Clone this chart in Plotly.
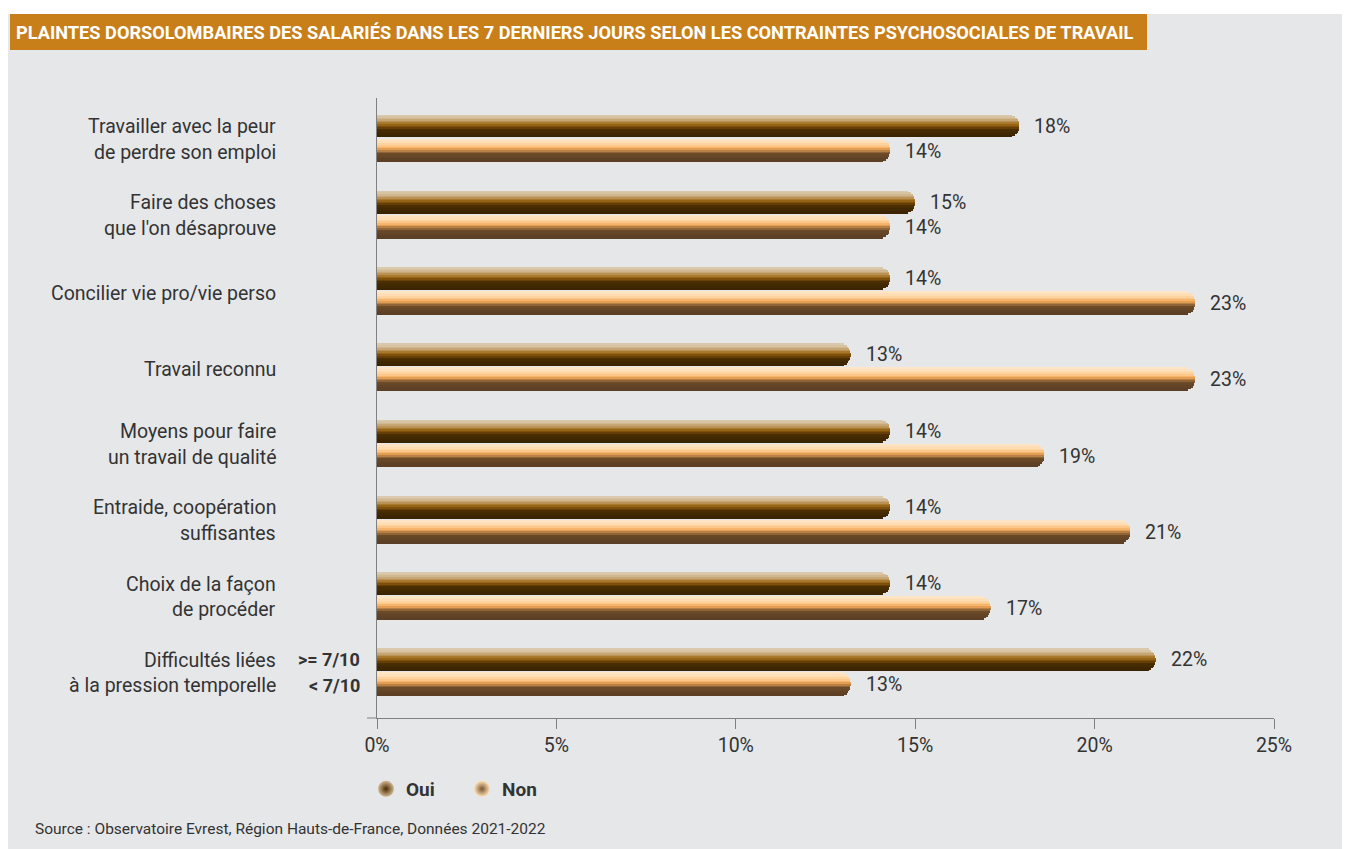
import plotly.graph_objects as go

# ---------------- data ----------------
categories = [
    "Travailler avec la peur de perdre son emploi",
    "Faire des choses que l'on désaprouve",
    "Concilier vie pro/vie perso",
    "Travail reconnu",
    "Moyens pour faire un travail de qualité",
    "Entraide, coopération suffisantes",
    "Choix de la façon de procéder",
    "Difficultés liées à la pression temporelle",
]
category_lines = [
    ["Travailler avec la peur", "de perdre son emploi"],
    ["Faire des choses", "que l'on désaprouve"],
    ["Concilier vie pro/vie perso"],
    ["Travail reconnu"],
    ["Moyens pour faire", "un travail de qualité"],
    ["Entraide, coopération", "suffisantes"],
    ["Choix de la façon", "de procéder"],
    ["Difficultés liées", "à la pression temporelle"],
]
oui_values = [17.9, 15.0, 14.3, 13.2, 14.3, 14.3, 14.3, 21.7]
non_values = [14.3, 14.3, 22.8, 22.8, 18.6, 21.0, 17.1, 13.2]
oui_labels = ["18%", "15%", "14%", "13%", "14%", "14%", "14%", "22%"]
non_labels = ["14%", "14%", "23%", "23%", "19%", "21%", "17%", "13%"]
series_names = ["Oui", "Non"]
x_ticks = [0, 5, 10, 15, 20, 25]
x_tick_labels = ["0%", "5%", "10%", "15%", "20%", "25%"]
extra_labels = [">= 7/10", "< 7/10"]

title_text = "PLAINTES DORSOLOMBAIRES DES SALARIÉS DANS LES 7 DERNIERS JOURS SELON LES CONTRAINTES PSYCHOSOCIALES DE TRAVAIL"
source_text = "Source : Observatoire Evrest, Région Hauts-de-France, Données 2021-2022"

# ---------------- style ----------------
OFF = 8                      # page body margin
W, H = 1350 - OFF, 849 - OFF
L, R, T, B = 377, 1274, 98, 718   # plot area in page pixels
FONT = "Roboto"
TXT = "#333333"
AXC = "#808080"
BG = "#e6e7e9"
LBL = 19.5

def px(xp):
    return (xp - L) / (R - L)

def py(yp):
    return (B - yp) / (B - T)

def hex2rgb(h):
    h = h.lstrip("#")
    return tuple(int(h[i:i + 2], 16) for i in (0, 2, 4))

def interp(stops, t):
    for (t0, c0), (t1, c1) in zip(stops[:-1], stops[1:]):
        if t0 <= t <= t1:
            f = 0 if t1 == t0 else (t - t0) / (t1 - t0)
            a, b = hex2rgb(c0), hex2rgb(c1)
            return "rgb(%d,%d,%d)" % tuple(round(a[k] + (b[k] - a[k]) * f) for k in range(3))
    return stops[-1][1]

oui_stops = [(0.0, "#ddcdb2"), (0.15, "#d4be9b"), (0.30, "#bf9a62"), (0.42, "#a3701f"),
             (0.55, "#7a4c08"), (0.68, "#4a2e02"), (1.0, "#3a2300")]
non_stops = [(0.0, "#fde7ca"), (0.2, "#fedcb0"), (0.35, "#fcc27e"), (0.45, "#eda456"),
             (0.56, "#a8763f"), (0.68, "#6a4928"), (1.0, "#5a3e23")]

# bar geometry in category units (one category slot = 76.2 px)
oui_offset, oui_width = -0.308, 0.290
non_offset, non_width = 0.006, 0.302
N_STRIPES = 14
CAP = 0.30  # rounded end radius in % units

fig = go.Figure()

def add_bar(values, stops, offset, width):
    h = width / N_STRIPES
    for i in range(N_STRIPES):
        t = (i + 0.5) / N_STRIPES
        u = 2 * t - 1
        shorten = CAP * (1 - (1 - u * u) ** 0.5)
        fig.add_trace(go.Bar(
            orientation="h", y=categories, x=[v - shorten for v in values], base=0,
            offset=offset + i * h, width=h * 1.15,
            marker=dict(color=interp(stops, t), line=dict(width=0)),
            showlegend=False, hoverinfo="skip",
        ))

add_bar(oui_values, oui_stops, oui_offset, oui_width)
add_bar(non_values, non_stops, non_offset, non_width)

# legend entries (spheres)
fig.add_trace(go.Scatter(x=[None], y=[None], mode="markers", name=series_names[0],
                         marker=dict(size=22, color="#d2b993",
                                     gradient=dict(type="radial", color="#4a2a00"))))
fig.add_trace(go.Scatter(x=[None], y=[None], mode="markers", name=series_names[1],
                         marker=dict(size=22, color="#ffe2b8",
                                     gradient=dict(type="radial", color="#7a5530"))))

annotations = []
# value labels
for cat, v, lab in zip(categories, oui_values, oui_labels):
    annotations.append(dict(x=v, y=cat, xref="x", yref="y", text=lab, showarrow=False,
                            xanchor="left", yanchor="middle", xshift=13, yshift=12.5,
                            font=dict(family=FONT, size=LBL, color=TXT)))
for cat, v, lab in zip(categories, non_values, non_labels):
    annotations.append(dict(x=v, y=cat, xref="x", yref="y", text=lab, showarrow=False,
                            xanchor="left", yanchor="middle", xshift=13, yshift=-12.5,
                            font=dict(family=FONT, size=LBL, color=TXT)))
# category labels
for cat, lines in zip(categories, category_lines):
    shifts = [12, -13.5] if len(lines) == 2 else [-2.5]
    for line, s in zip(lines, shifts):
        annotations.append(dict(x=px(278), y=cat, xref="paper", yref="y", text=line,
                                showarrow=False, xanchor="right", yanchor="middle", yshift=s,
                                font=dict(family=FONT, size=LBL, color=TXT)))
# extra labels on last category
for lab, s in zip(extra_labels, [13, -13.5]):
    annotations.append(dict(x=px(362), y=categories[-1], xref="paper", yref="y",
                            text="<b>" + lab + "</b>", showarrow=False, xanchor="right",
                            yanchor="middle", yshift=s,
                            font=dict(family=FONT, size=18, color=TXT)))
# title
annotations.append(dict(x=px(14), y=py(32), xref="paper", yref="paper",
                        text="<b>" + title_text + "</b>", showarrow=False,
                        xanchor="left", yanchor="middle",
                        font=dict(family=FONT, size=18.2, color="white")))
# source
annotations.append(dict(x=px(33), y=py(829), xref="paper", yref="paper",
                        text=source_text, showarrow=False, xanchor="left", yanchor="middle",
                        font=dict(family=FONT, size=15.5, color=TXT)))

shapes = [
    dict(type="rect", xref="paper", yref="paper", x0=px(8), x1=px(1360),
         y0=py(870), y1=py(14), fillcolor=BG, line=dict(width=0), layer="below"),
    dict(type="rect", xref="paper", yref="paper", x0=px(10), x1=px(1147),
         y0=py(50), y1=py(14), fillcolor="#c87f19", line=dict(width=0), layer="below"),
    dict(type="line", xref="paper", yref="paper", x0=px(367), x1=0, y0=0, y1=0,
         line=dict(width=1, color=AXC)),
]

fig.update_layout(
    width=W, height=H,
    margin=dict(l=L - OFF, r=W - (R - OFF), t=T - OFF, b=H - (B - OFF), autoexpand=False),
    paper_bgcolor="white", plot_bgcolor="rgba(0,0,0,0)",
    barmode="overlay", bargap=0,
    font=dict(family=FONT, size=LBL, color=TXT),
    showlegend=True,
    legend=dict(orientation="h", x=px(366), y=py(789), xanchor="left", yanchor="middle",
                bgcolor="rgba(0,0,0,0)", font=dict(family=FONT, size=19, color=TXT, weight="bold"),
                entrywidth=51, entrywidthmode="pixels", itemclick=False),
    xaxis=dict(range=[0, 25], tickvals=x_ticks, ticktext=x_tick_labels, ticks="outside",
               ticklen=10, tickcolor=AXC, showline=True, linecolor=AXC, linewidth=1,
               showgrid=False, zeroline=False, tickfont=dict(family=FONT, size=LBL, color=TXT)),
    yaxis=dict(type="category", categoryarray=categories, range=[7.597, -0.5315],
               showticklabels=False, ticks="", showline=True, linecolor=AXC, linewidth=1,
               showgrid=False, zeroline=False),
    annotations=annotations,
    shapes=shapes,
)

fig.write_html("out.html")
